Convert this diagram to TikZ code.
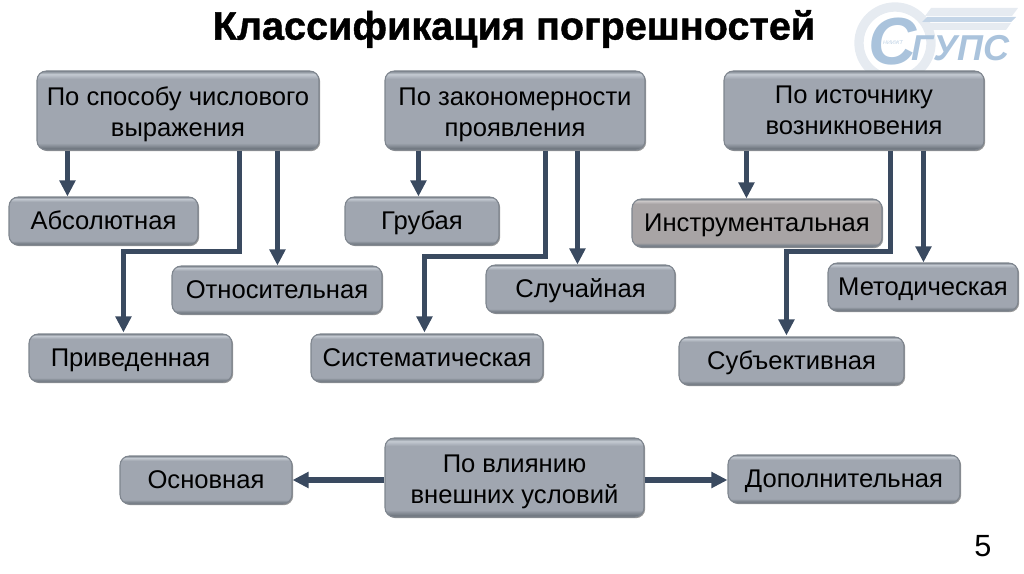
\documentclass[tikz,border=0pt]{standalone}
\usepackage{fontspec}
\setmainfont{Liberation Sans}
\usetikzlibrary{arrows.meta,calc,shadows}
\definecolor{boxedge}{HTML}{7E858E}
\definecolor{boxfill}{HTML}{A0A6B0}
\definecolor{boxtop}{HTML}{C4CAD2}
\definecolor{linkcol}{HTML}{3A4A60}
\definecolor{logoblue}{HTML}{AAC3DC}
\definecolor{logopale}{HTML}{E6EBF1}
\definecolor{boxdark}{HTML}{5F666F}
\definecolor{warmfill}{HTML}{A8A4A5}
\definecolor{warmtop}{HTML}{CBC8C8}
\pgfdeclareverticalshading{boxshade}{100bp}{
 color(0bp)=(boxdark); color(25bp)=(boxdark); color(27bp)=(boxedge); color(29.5bp)=(boxfill); color(70bp)=(boxfill); color(73bp)=(boxtop); color(75bp)=(boxedge); color(100bp)=(boxedge)}
\pgfdeclareverticalshading{warmshade}{100bp}{
 color(0bp)=(boxdark); color(25bp)=(boxdark); color(27bp)=(boxedge); color(29.5bp)=(warmfill); color(70bp)=(warmfill); color(73bp)=(warmtop); color(75bp)=(boxedge); color(100bp)=(boxedge)}
\tikzset{
 flatbox/.style={rectangle,rounded corners=7pt,draw=boxedge,line width=0.8pt,shading=boxshade,
   general shadow={shadow xshift=0.9pt,shadow yshift=-0.9pt,fill=black,opacity=0.4},
   text=black,align=center,inner sep=0pt,font=\fontsize{19.2}{23.5}\selectfont},
 oneline/.style={text height=16.2pt,text depth=4pt},
 link/.style={draw=linkcol,line width=4pt,-{Triangle[length=12pt,width=11.5pt]}},
}
\newcommand{\bx}[6][]{%
 \pgfmathsetmacro{\cxx}{(#3+#5)/2}\pgfmathsetmacro{\cyy}{(#4+#6)/2}%
 \pgfmathsetmacro{\www}{(#5-#3)*0.75}\pgfmathsetmacro{\hhh}{(#6-#4)*0.75}%
 \node[flatbox,minimum width=\www pt,minimum height=\hhh pt,#1] (#2) at (\cxx,\cyy)}
\newcommand{\toppad}{\rule{0pt}{20pt}}
\begin{document}
\begin{tikzpicture}[x=0.75pt,y=-0.75pt]
\useasboundingbox (0,0) rectangle (1024,574);
% logo
\draw[logopale,line width=7pt] (895,43) circle (36);
\fill[logopale] (931,8) -- (1018,8) -- (1012,16) -- (925,16) -- cycle;
\fill[logoblue!70] (927,17) -- (1016,17) -- (1011,22) -- (922,22) -- cycle;
\fill[logopale] (922,23) -- (1011,23) -- (1006,30) -- (928,30) -- cycle;
\node[text=logoblue,font=\fontsize{50}{50}\selectfont\bfseries\itshape,inner sep=0pt] (logoC) at (893,42) {С};
\node[text=logoblue,font=\fontsize{27}{27}\selectfont\bfseries\itshape,inner sep=0pt,anchor=west] (logoT) at (911,48) {ГУПС};
\node[text=logoblue!80,font=\fontsize{4}{5}\selectfont\itshape,inner sep=0pt] (logoN) at (893,43) {НИИЖТ};
% title
\node[font=\fontsize{29.7}{34}\selectfont\bfseries\addfontfeature{FakeBold=1},inner sep=0pt] (title) at (514,29) {Классификация погрешностей};
% boxes
\bx{A}{37}{71}{319}{150} {\toppad По способу числового\\выражения};
\bx{B}{385}{71}{645}{150} {\toppad По закономерности\\проявления};
\bx{C}{724}{71}{984}{150} {По источнику\\возникновения};
\bx[oneline]{a1}{9}{197}{198}{245} {Абсолютная};
\bx[oneline]{a2}{172}{266}{382}{314} {Относительная};
\bx[oneline]{a3}{29}{334}{232}{382} {Приведенная};
\bx[oneline]{b1}{345}{197}{499}{245} {Грубая};
\bx[oneline]{b2}{486}{265}{675}{313} {Случайная};
\bx[oneline]{b3}{311}{334}{543}{382} {Систематическая};
\bx[oneline,shading=warmshade]{c1}{632}{199}{882}{247} {Инструментальная};
\bx[oneline]{c2}{828}{263}{1018}{311} {Методическая};
\bx[oneline]{c3}{679}{337}{904}{385} {Субъективная};
\bx[oneline]{d1}{120}{456}{292}{504} {Основная};
\bx{D}{385}{438}{644}{517} {\toppad По влиянию\\внешних условий};
\bx[oneline]{d2}{728}{455}{960}{503} {Дополнительная};
% connectors
\draw[link] ($(A.south west)+(31,0)$) -- ($(a1.north west)+(59,0)$);
\draw[link] ($(A.south west)+(241,0)$) -- ($(a2.north west)+(106,0)$);
\draw[link] ($(A.south west)+(203,0)$) |- ($(a3.north west)+(95,-82)$) -- ($(a3.north west)+(95,-1)$);
\draw[link] ($(B.south west)+(34,0)$) -- ($(b1.north west)+(74,0)$);
\draw[link] ($(B.south west)+(193,0)$) -- ($(b2.north west)+(92,0)$);
\draw[link] ($(B.south west)+(161,0)$) |- ($(b3.north west)+(114,-77)$) -- ($(b3.north west)+(114,-1)$);
\draw[link] ($(C.south west)+(23,0)$) -- ($(c1.north west)+(115,0)$);
\draw[link] ($(C.south west)+(200,0)$) -- ($(c2.north west)+(96,0)$);
\draw[link] ($(C.south west)+(167,0)$) |- ($(c3.north west)+(108,-85)$) -- ($(c3.north west)+(108,-1)$);
\draw[link] ($(D.west)+(0,2.5)$) -- ($(d1.east)+(0,0)$);
\draw[link] ($(D.east)+(0,2.5)$) -- ($(d2.west)+(0,1)$);
% page number
\node[font=\fontsize{23}{26}\selectfont,inner sep=0pt] (page) at (983,546) {5};
\end{tikzpicture}
\end{document}
